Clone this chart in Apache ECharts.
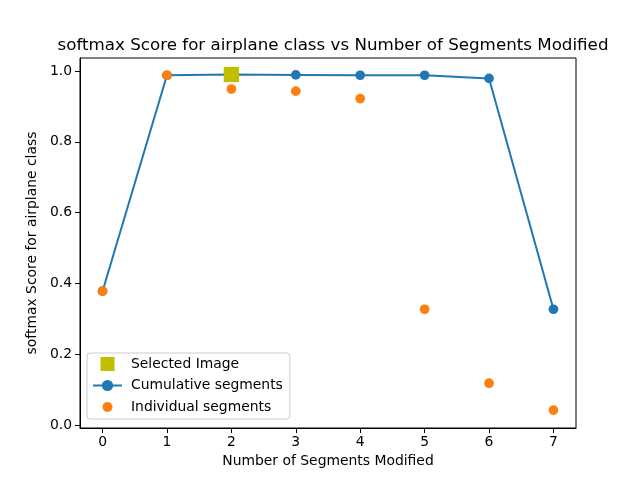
<!DOCTYPE html>
<html><head><meta charset="utf-8">
<script src="https://cdn.jsdelivr.net/npm/echarts@6/dist/echarts.min.js"></script>
<style>html,body{margin:0;padding:0;background:#fff}#c{width:640px;height:480px}</style>
</head><body><div id="c"></div>
<script>
const segments = [0, 1, 2, 3, 4, 5, 6, 7];
const cumulative = [0.378, 0.988, 0.990, 0.989, 0.988, 0.988, 0.979, 0.327];
const individual = [0.378, 0.988, 0.949, 0.943, 0.922, 0.327, 0.118, 0.042];
const selectedX = [2];
const selectedY = [0.990];
const yTicks = [0, 0.2, 0.4, 0.6, 0.8, 1.0];
const xTicks = [0, 1, 2, 3, 4, 5, 6, 7];

const F = 'DejaVu Sans';
const chart = echarts.init(document.getElementById('c'), null, {renderer: 'canvas'});
chart.setOption({
  animation: false,
  backgroundColor: '#fff',
  title: {
    text: 'softmax Score for airplane class vs Number of Segments Modified',
    left: 328, top: 32, textAlign: 'center',
    textStyle: {fontFamily: F, fontSize: 16.7, fontWeight: 'normal', color: '#000'}
  },
  grid: {left: 80, right: 64, top: 58, bottom: 52, show: true, borderColor: '#000', borderWidth: 1, backgroundColor: 'transparent'},
  xAxis: {
    type: 'value', min: -0.35, max: 7.35,
    name: 'Number of Segments Modified', nameLocation: 'middle', nameGap: 26,
    nameTextStyle: {fontFamily: F, fontSize: 13.9, color: '#000'},
    axisLine: {show: true, onZero: false, lineStyle: {color: '#000', width: 1}},
    axisTick: {show: true, length: 5, customValues: xTicks, lineStyle: {color: '#000'}},
    axisLabel: {customValues: xTicks, margin: 7, fontFamily: F, fontSize: 13.9, color: '#000'},
    splitLine: {show: false}
  },
  yAxis: {
    type: 'value', min: -0.0085, max: 1.0367,
    name: 'softmax Score for airplane class', nameLocation: 'middle', nameGap: 40,
    nameTextStyle: {fontFamily: F, fontSize: 13.9, color: '#000'},
    axisLine: {show: true, onZero: false, lineStyle: {color: '#000', width: 1}},
    axisTick: {show: true, length: 5, customValues: yTicks, lineStyle: {color: '#000'}},
    axisLabel: {customValues: yTicks, margin: 8, fontFamily: F, fontSize: 13.9, color: '#000',
      formatter: v => v.toFixed(1)},
    splitLine: {show: false}
  },
  legend: {
    orient: 'vertical', left: 87, top: 353,
    padding: [4, 7, 5, 5], itemGap: 7.5, itemWidth: 29, itemHeight: 14,
    backgroundColor: 'rgba(255,255,255,0.8)', borderColor: '#cccccc', borderWidth: 1, borderRadius: 3,
    textStyle: {fontFamily: F, fontSize: 13.9, color: '#000', padding: [0, 0, 0, 4]},
    data: [
      {name: 'Selected Image', icon: 'path://M0,0M29,14M7,-0.5L22,-0.5L22,14.5L7,14.5Z'},
      {name: 'Cumulative segments'},
      {name: 'Individual segments', icon: 'path://M0,0M29,14M19.5,7A5,5,0,1,1,9.5,7A5,5,0,1,1,19.5,7Z'}
    ]
  },
  series: [
    {
      name: 'Cumulative segments', type: 'line', z: 2,
      data: segments.map((x, i) => [x, cumulative[i]]),
      symbol: 'circle', symbolSize: 9.7, showAllSymbol: true,
      lineStyle: {color: '#1f77b4', width: 2},
      itemStyle: {color: '#1f77b4'}
    },
    {
      name: 'Individual segments', type: 'scatter', z: 3,
      data: segments.map((x, i) => [x, individual[i]]),
      symbol: 'circle', symbolSize: 9.7,
      itemStyle: {color: '#ff7f0e', opacity: 1}
    },
    {
      name: 'Selected Image', type: 'scatter', z: 4,
      data: selectedX.map((x, i) => [x, selectedY[i]]),
      symbol: 'rect', symbolSize: 15.3,
      itemStyle: {color: '#bfbf00', opacity: 1}
    }
  ]
});
</script></body></html>
